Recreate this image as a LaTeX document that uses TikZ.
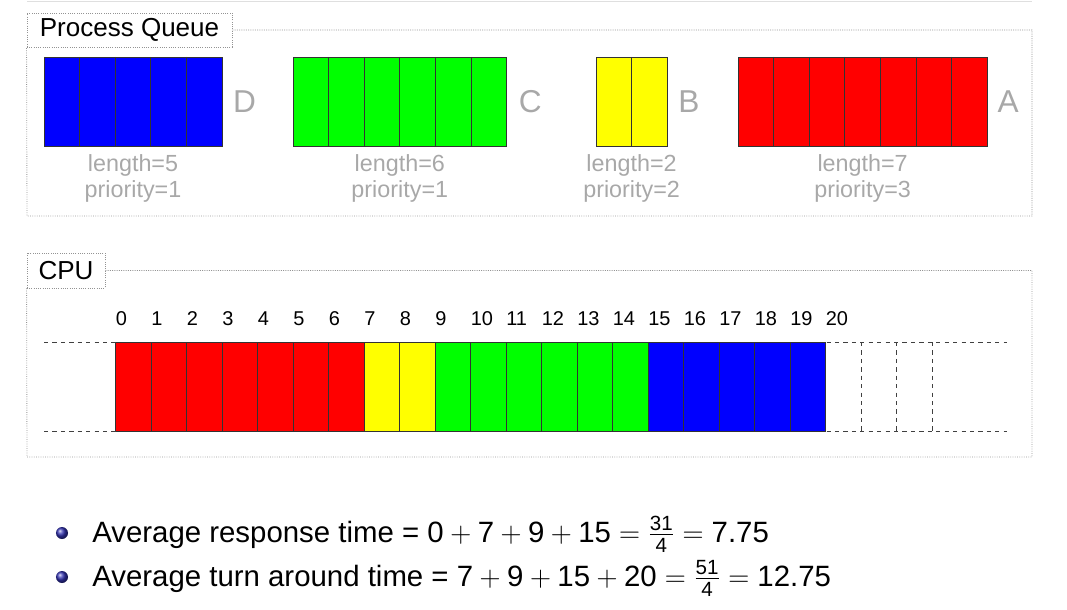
\documentclass[tikz,border=0pt]{standalone}
\usepackage{amsmath}
\usepackage{fontspec}
\setmainfont{Liberation Sans}
\setsansfont{Liberation Sans}
\usepackage{xcolor}
\usepackage{tikz}
\usetikzlibrary{positioning}

\definecolor{qred}{RGB}{255,0,0}
\definecolor{qyellow}{RGB}{255,255,0}
\definecolor{qgreen}{RGB}{0,255,0}
\definecolor{qblue}{RGB}{0,0,255}
\definecolor{qgray}{RGB}{168,168,168}
\definecolor{ballblue}{rgb}{0.2,0.2,0.7}

\newcommand{\sfd}[1]{\text{#1}}

\begin{document}
\begin{tikzpicture}[
  x=0.025cm, y=-0.025cm,
  frame/.style    = {draw=gray!85, densely dotted, line width=0.6pt},
  titlebox/.style = {draw=gray!85, densely dotted, line width=0.6pt,
                     inner sep=0pt, font=\fontsize{18.5}{22}\selectfont},
  qblock/.style   = {draw=black!80, line width=0.6pt, inner sep=0pt,
                     outer sep=0pt, minimum height=2.225cm},
  divider/.style  = {draw=black!80, line width=0.6pt},
  qletter/.style  = {text=qgray, inner sep=0pt, font=\fontsize{22.5}{24}\selectfont},
  qinfo/.style    = {text=qgray, inner sep=0pt, align=center,
                     font=\fontsize{16.6}{18.5}\selectfont},
  tick/.style     = {anchor=base west, inner sep=0pt,
                     font=\fontsize{14.2}{16}\selectfont},
  slot/.style     = {draw=black!80, line width=0.6pt},
  idle/.style     = {draw=black!75, dashed, line width=0.6pt},
  bullet/.style   = {circle, inner sep=0pt, minimum size=0.3cm, ball color=ballblue},
  item/.style     = {anchor=base west, inner sep=0pt,
                     font=\fontsize{20.9}{24}\selectfont},
]
\useasboundingbox (0,0) rectangle (1067,610);

\draw[gray!25, line width=0.8pt] (27,1.5) -- (1032,1.5);

%% ── Process queue ───────────────────────────────────────────────────────────
\node[titlebox, minimum width=5.125cm, minimum height=0.85cm] (pqtitle)
  at (129.5,30) {Process Queue};
\draw[frame] (pqtitle.east) -- (1032,30) -- (1032,216) -- (27,216)
  -- (pqtitle.south west);

\node[qblock, fill=qblue,   minimum width=4.45cm] (blkD) at (133,101.5) {};
\node[qblock, fill=qgreen,  minimum width=5.34cm] (blkC) at (399.8,101.5) {};
\node[qblock, fill=qyellow, minimum width=1.78cm] (blkB) at (631.6,101.5) {};
\node[qblock, fill=qred,    minimum width=6.23cm] (blkA) at (862.6,101.5) {};

\foreach \b/\n in {D/5, C/6, B/2, A/7} {
  \pgfmathtruncatemacro\m{\n-1}
  \foreach \i in {1,...,\m}
    \draw[divider] ([xshift=\i*0.89cm]blk\b.north west)
      -- ([xshift=\i*0.89cm]blk\b.south west);
}

\node[qletter, right=0.27cm of blkD] (lblD) {D};
\node[qletter, right=0.3cm of blkC]  (lblC) {C};
\node[qletter, right=0.27cm of blkB] (lblB) {B};
\node[qletter, right=0.25cm of blkA] (lblA) {A};

\node[qinfo, below=0.2cm of blkD] (infoD) {length=5\\priority=1};
\node[qinfo, below=0.2cm of blkC] (infoC) {length=6\\priority=1};
\node[qinfo, below=0.2cm of blkB] (infoB) {length=2\\priority=2};
\node[qinfo, below=0.2cm of blkA] (infoA) {length=7\\priority=3};

%% ── CPU ─────────────────────────────────────────────────────────────────────
\node[titlebox, minimum width=1.95cm, minimum height=0.875cm] (cputitle)
  at (66,270.5) {CPU};
\draw[frame] (cputitle.east) -- (1032,270.5) -- (1032,457) -- (27,457)
  -- (cputitle.south west);

\foreach \from/\to/\col in {0/6/qred, 7/8/qyellow, 9/14/qgreen, 15/19/qblue}
  \foreach \t in {\from,...,\to}
    \draw[slot, fill=\col] ({115.5+35.5*\t},342) rectangle ++(35.5,89);

\foreach \t in {0,...,20}
  \node[tick] (t\t) at ({115.5+35.5*\t},326) {\t};

\draw[idle] (44,342) -- (115.5,342);
\draw[idle] (44,431) -- (115.5,431);
\draw[idle] (826.5,342) -- (1007,342);
\draw[idle] (826.5,431) -- (1007,431);
\foreach \t in {21,22,23}
  \draw[idle] ({115.5+35.5*\t},342) -- ++(0,89);

%% ── Averages ────────────────────────────────────────────────────────────────
\node[bullet] (b1) at (62,533) {};
\node[bullet] (b2) at (62,577) {};
\node[item] (avgresp) at (92,542)
  {Average response time = $\sfd{0}+\sfd{7}+\sfd{9}+\sfd{15}
   =\frac{\sfd{31}}{\sfd{4}}=\sfd{7.75}$};
\node[item] (avgturn) at (92,586)
  {Average turn around time = $\sfd{7}+\sfd{9}+\sfd{15}+\sfd{20}
   =\frac{\sfd{51}}{\sfd{4}}=\sfd{12.75}$};

\end{tikzpicture}
\end{document}
